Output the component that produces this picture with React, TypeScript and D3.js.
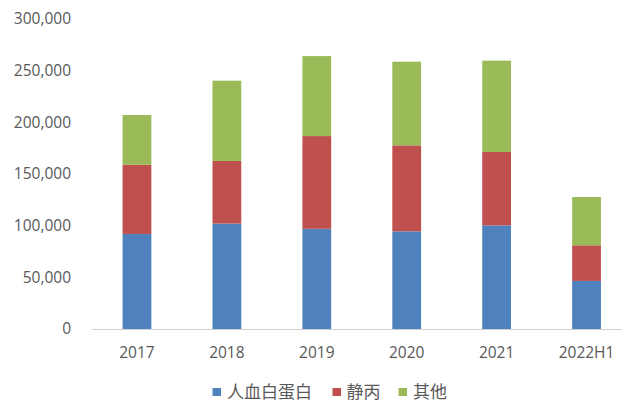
import React from "react";
import * as d3 from "d3";

const categories = ["2017", "2018", "2019", "2020", "2021", "2022H1"];
const seriesNames = ["人血白蛋白", "静丙", "其他"];
const albumin = [92000, 102000, 97000, 94500, 100300, 46500];
const ivig = [67000, 60600, 89700, 83200, 71000, 34500];
const others = [48100, 77700, 77400, 81000, 88400, 46700];
const yTicks = [0, 50000, 100000, 150000, 200000, 250000, 300000];
const colors = ["#4F81BD", "#C0504D", "#9BBB59"];

const W = 622;
const H = 403;
const tickFont = "'Open Sans', sans-serif";

export default function App() {
  const x = d3
    .scaleBand<string>()
    .domain(categories)
    .range([92, 631.5])
    .paddingInner(0.68)
    .paddingOuter(0.34);
  const y = d3.scaleLinear().domain([0, 300000]).range([329, 19]);

  const rows = categories.map((c, i) => ({
    cat: c,
    a: albumin[i],
    b: ivig[i],
    c: others[i],
  }));
  const stack = d3.stack<any>().keys(["a", "b", "c"]);
  const layers = stack(rows);
  const fmt = d3.format(",");

  const legendItems = [
    { x: 212.5, tx: 227, name: seriesNames[0], color: colors[0] },
    { x: 332.5, tx: 346.5, name: seriesNames[1], color: colors[1] },
    { x: 398.5, tx: 413, name: seriesNames[2], color: colors[2] },
  ];

  return (
    <svg
      width={W}
      height={H}
      style={{ position: "absolute", left: 0, top: 0, background: "#fff" }}
    >
      {yTicks.map((t) => (
        <text
          key={t}
          x={71}
          y={y(t)}
          dy="0.35em"
          textAnchor="end"
          fontFamily={tickFont}
          fontSize={15.5}
          fill="#595959"
        >
          {fmt(t)}
        </text>
      ))}
      {layers.map((layer, li) => (
        <g key={li} fill={colors[li]}>
          {layer.map((d, i) => (
            <rect
              key={i}
              x={x(categories[i])!}
              y={y(d[1])}
              width={x.bandwidth()}
              height={y(d[0]) - y(d[1])}
            />
          ))}
        </g>
      ))}
      <line x1={92} x2={622} y1={329.5} y2={329.5} stroke="#D0D0D0" strokeWidth={1} />
      {categories.map((c) => (
        <text
          key={c}
          x={x(c)! + x.bandwidth() / 2}
          y={353}
          dy="0.35em"
          textAnchor="middle"
          fontFamily={tickFont}
          fontSize={15.5}
          fill="#595959"
        >
          {c}
        </text>
      ))}
      {legendItems.map((l) => (
        <g key={l.name}>
          <rect x={l.x} y={388} width={8.5} height={8} fill={l.color} />
          <text
            x={l.tx}
            y={392.5}
            dy="0.35em"
            fontFamily="Noto Sans CJK SC"
            fontSize={17}
            fill="#595959"
          >
            {l.name}
          </text>
        </g>
      ))}
    </svg>
  );
}
